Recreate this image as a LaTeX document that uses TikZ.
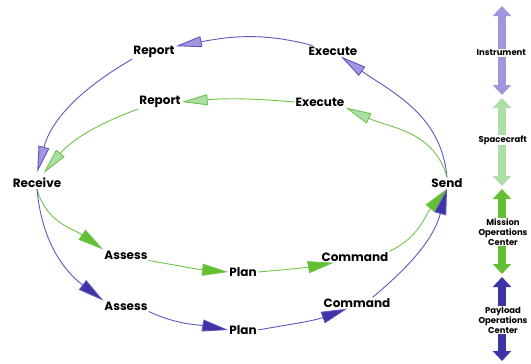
\documentclass[tikz,border=0pt]{standalone}
\usepackage{fontspec}
\setmainfont{Poppins}
\usepackage{tikz}
\usetikzlibrary{arrows.meta}
\definecolor{myblue}{RGB}{95,85,195}
\definecolor{mylavender}{RGB}{160,150,222}
\definecolor{mydarkblue}{RGB}{62,52,168}
\definecolor{mygreen}{RGB}{110,196,72}
\definecolor{mylightgreen}{RGB}{172,222,168}
\definecolor{mysolidgreen}{RGB}{100,190,50}

\begin{document}
\begin{tikzpicture}[x=1pt, y=1pt,
    lbl/.style={font=\bfseries\fontsize{12}{14}\selectfont, inner sep=1pt},
    side/.style={font=\bfseries\fontsize{8.5}{10}\selectfont, align=center, fill=white, inner sep=0.5pt},
    bluehi/.style={myblue, line width=0.9pt, -{Triangle[length=26pt,width=11pt,fill=mylavender]}},
    bluelo/.style={myblue, line width=0.9pt, -{Triangle[length=26pt,width=12pt,fill=mydarkblue]}},
    greenhi/.style={mygreen, line width=0.9pt, -{Triangle[length=26pt,width=11pt,fill=mylightgreen]}},
    greenlo/.style={mygreen, line width=0.9pt, -{Triangle[length=26pt,width=12pt,fill=mysolidgreen]}},
    bar/.style={line width=8pt, {Triangle[length=10pt,width=18pt]}-{Triangle[length=10pt,width=18pt]}}]
    \useasboundingbox (0,0) rectangle (531,-364);
    \clip (0,0) rectangle (531,-364);

    \node[lbl] (recv) at (37,-183) {Receive};
    \node[lbl] (send) at (447,-183) {Send};
    \node[lbl] (repB) at (154,-52) {Report};
    \node[lbl] (exeB) at (333,-51) {Execute};
    \node[lbl] (repG) at (160,-102) {Report};
    \node[lbl] (exeG) at (320,-102) {Execute};
    \node[lbl] (assG) at (126,-255) {Assess};
    \node[lbl] (planG) at (243,-272) {Plan};
    \node[lbl] (cmdG) at (355,-257) {Command};
    \node[lbl] (assB) at (126,-306) {Assess};
    \node[lbl] (planB) at (243,-330) {Plan};
    \node[lbl] (cmdB) at (357,-303) {Command};

    % upper half, back from send to receive
    \draw[bluehi] (send.north) to[out=95,in=-35] (exeB.-35);
    \draw[bluehi] (exeB.165) to[out=165,in=10] (repB.15);
    \draw[bluehi, shorten >=5pt] (repB.south west) to[out=210,in=75] (recv.100);
    \draw[greenhi] (send.north) to[out=105,in=-25] (exeG.south east);
    \draw[greenhi] (exeG.west) to[out=175,in=5] (repG.east);
    \draw[greenhi, shorten >=5pt] (repG.south west) to[out=200,in=50] (recv.60);

    % lower half
    \draw[greenlo] (recv.south) to[out=-75,in=145] (assG.north west);
    \draw[bluelo] (recv.south) to[out=-85,in=143] (assB.north west);
    \draw[greenlo] (assG.south east) to[out=-10,in=175] (planG.west);
    \draw[bluelo] (assB.south east) to[out=-25,in=170] (planB.west);
    \draw[greenlo] (planG.east) to[out=5,in=190] (cmdG.-165);
    \draw[bluelo] (planB.east) to[out=10,in=200] (cmdB.-150);
    \draw[greenlo] (cmdG.north east) to[out=25,in=230] (send.south);
    \draw[bluelo] (cmdB.20) to[out=40,in=255] (send.south);

    % levels on the right
    \coordinate (i1) at (502,-6);
    \coordinate (i2) at (502,-95);
    \coordinate (s1) at (502,-98);
    \coordinate (s2) at (502,-186);
    \coordinate (m1) at (502,-189);
    \coordinate (m2) at (502,-274);
    \coordinate (p1) at (502,-277);
    \coordinate (p2) at (502,-361);
    \draw[bar, mylavender] (i1) -- (i2);
    \draw[bar, mylightgreen] (s1) -- (s2);
    \draw[bar, mysolidgreen] (m1) -- (m2);
    \draw[bar, mydarkblue] (p1) -- (p2);
    \node[side, anchor=west] (inst) at (476,-53) {Instrument};
    \node[side, anchor=west] (craft) at (478,-140) {Spacecraft};
    \node[side] (moc) at (503,-232) {Mission\\Operations\\Center};
    \node[side] (poc) at (503,-320) {Payload\\Operations\\Center};
\end{tikzpicture}
\end{document}
